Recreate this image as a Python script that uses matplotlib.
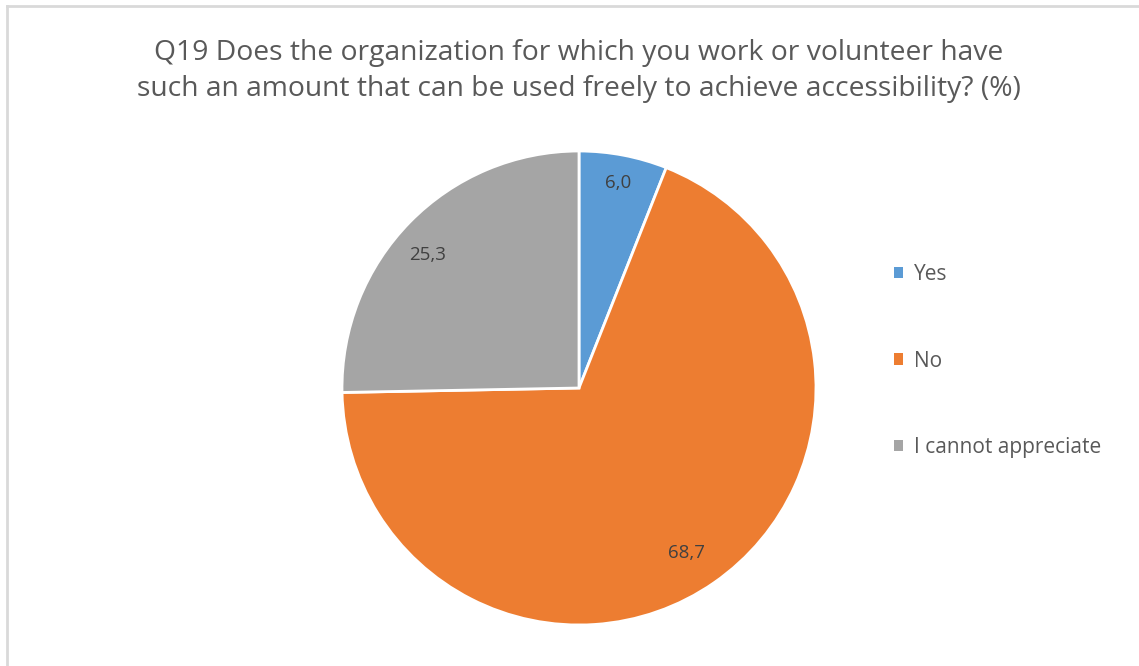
import numpy as np
import matplotlib.pyplot as plt
from matplotlib.lines import Line2D
from matplotlib.patches import Patch

categories = ['Yes', 'No', 'I cannot appreciate']
values = [6.0, 68.7, 25.3]
value_labels = ['6,0', '68,7', '25,3']
colors = ['#5B9BD5', '#ED7D31', '#A5A5A5']
title = ('Q19 Does the organization for which you work or volunteer have\n'
         'such an amount that can be used freely to achieve accessibility? (%)')

plt.rcParams['font.family'] = ['Open Sans', 'DejaVu Sans']
txt = '#595959'

W, H = 1139, 666
fig = plt.figure(figsize=(W / 100, H / 100), dpi=100)

# chart frame (top and left edges visible)
fig.add_artist(Line2D([7 / W, 7 / W], [0, 1 - 6 / H], color='#D9D9D9', lw=2))
fig.add_artist(Line2D([7 / W, 1], [1 - 6 / H, 1 - 6 / H], color='#D9D9D9', lw=2))

cx, cy, r = 579, 388, 237
ax = fig.add_axes([(cx - r) / W, 1 - (cy + r) / H, 2 * r / W, 2 * r / H])
wedges, _ = ax.pie(values, colors=colors, startangle=90, counterclock=False,
                   wedgeprops=dict(edgecolor='white', linewidth=2))
ax.set_xlim(-1, 1)
ax.set_ylim(-1, 1)
ax.set_aspect('equal')

# label radius and small angular nudge per slice
dist = [0.88, 0.83, 0.85]
nudge = [0, -1.5, 3]
for w, lab, d, n in zip(wedges, value_labels, dist, nudge):
    ang = np.deg2rad((w.theta1 + w.theta2) / 2 + n)
    ax.text(d * np.cos(ang), d * np.sin(ang), lab, ha='center', va='center',
            fontsize=13.5, color='#404040')

fig.text(cx / W, 1 - 71 / H, title, ha='center', va='center', fontsize=20.3,
         color=txt, linespacing=1.38)

handles = [Patch(facecolor=c, edgecolor='none') for c in colors]
fig.legend(handles, categories, loc='center left', bbox_to_anchor=(875 / W, 1 - 361 / H),
           frameon=False, fontsize=15, labelcolor=txt, handlelength=0.45,
           handleheight=0.45, handletextpad=0.5, labelspacing=3.15)

fig.savefig('out.png', dpi=100, facecolor='white')
